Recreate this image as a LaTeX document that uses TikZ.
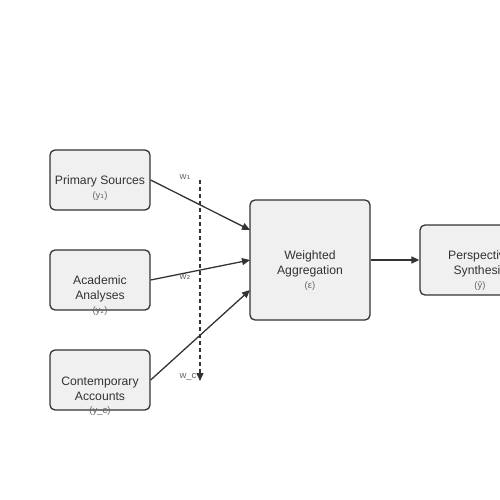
\documentclass[tikz,border=0pt]{standalone}
\usepackage{fontspec}
\setmainfont{Liberation Sans}
\newfontfamily\symfont{DejaVu Sans}
\usetikzlibrary{arrows.meta}
\definecolor{edge}{HTML}{333333}
\definecolor{boxfill}{HTML}{F0F0F0}
\definecolor{subgray}{HTML}{666666}
\tikzset{
  box/.style={draw=edge, fill=boxfill, line width=1.3pt, rounded corners=5pt, inner sep=0pt},
  maintext/.style={text=edge, font=\fontsize{12.2}{14.5}\selectfont, inner sep=0pt, align=center},
  subtext/.style={text=subgray, font=\fontsize{9.5}{11}\selectfont, inner sep=0pt},
  wlabel/.style={text=subgray, font=\fontsize{9.5}{11}\selectfont, inner sep=0pt},
  conn/.style={draw=edge, line width=1.3pt, -{Triangle[length=8pt,width=7pt]}},
  weightline/.style={draw=edge, line width=1.3pt, dash pattern=on 4pt off 3pt, -{Triangle[length=8pt,width=7pt]}}
}
\begin{document}
\begin{tikzpicture}[x=1pt,y=-1pt]
\useasboundingbox (0,0) rectangle (500,500);
\clip (0,0) rectangle (500,500);
% boxes
\node[box, minimum width=100pt, minimum height=60pt] (ps) at (100,180) {};
\node[box, minimum width=100pt, minimum height=60pt] (aa) at (100,280) {};
\node[box, minimum width=100pt, minimum height=60pt] (ca) at (100,380) {};
\node[box, minimum width=120pt, minimum height=120pt] (wa) at (310,260) {};
\node[box, minimum width=120pt, minimum height=70pt] (syn) at (480,260) {};
% texts
\node[maintext] (pst) at (100,181.5) {Primary Sources};
\node[subtext] (pss) at (100,196.5) {(y{\symfont ₁})};
\node[maintext] (aat) at (100,289) {Academic\\Analyses};
\node[subtext] (aas) at (100,311.5) {(y{\symfont ₂})};
\node[maintext] (cat) at (100,389) {Contemporary\\Accounts};
\node[subtext] (cas) at (100,411.5) {(y\_c)};
\node[maintext] (wat) at (310,264) {Weighted\\Aggregation};
\node[subtext] (was) at (310,286.5) {(ε)};
\node[maintext] (synt) at (480,264) {Perspective\\Synthesis};
\node[subtext] (syns) at (480,286.5) {(ŷ)};
% connectors
\coordinate (wa1) at (250,230);
\coordinate (wa2) at (250,260);
\coordinate (wa3) at (250,290);
\draw[conn] (ps.east) -- (wa1);
\draw[conn] (aa.east) -- (wa2);
\draw[conn] (ca.east) -- (wa3);
\draw[conn] (wa.east) -- (syn.west);
% weight line
\coordinate (wtop) at (200,180);
\coordinate (wbot) at (200,381);
\draw[weightline] (wtop) -- (wbot);
\node[wlabel] (w1) at (185,177) {w{\symfont ₁}};
\node[wlabel] (w2) at (185,277) {w{\symfont ₂}};
\node[wlabel] (wc) at (188,377) {w\_c};
\end{tikzpicture}
\end{document}
